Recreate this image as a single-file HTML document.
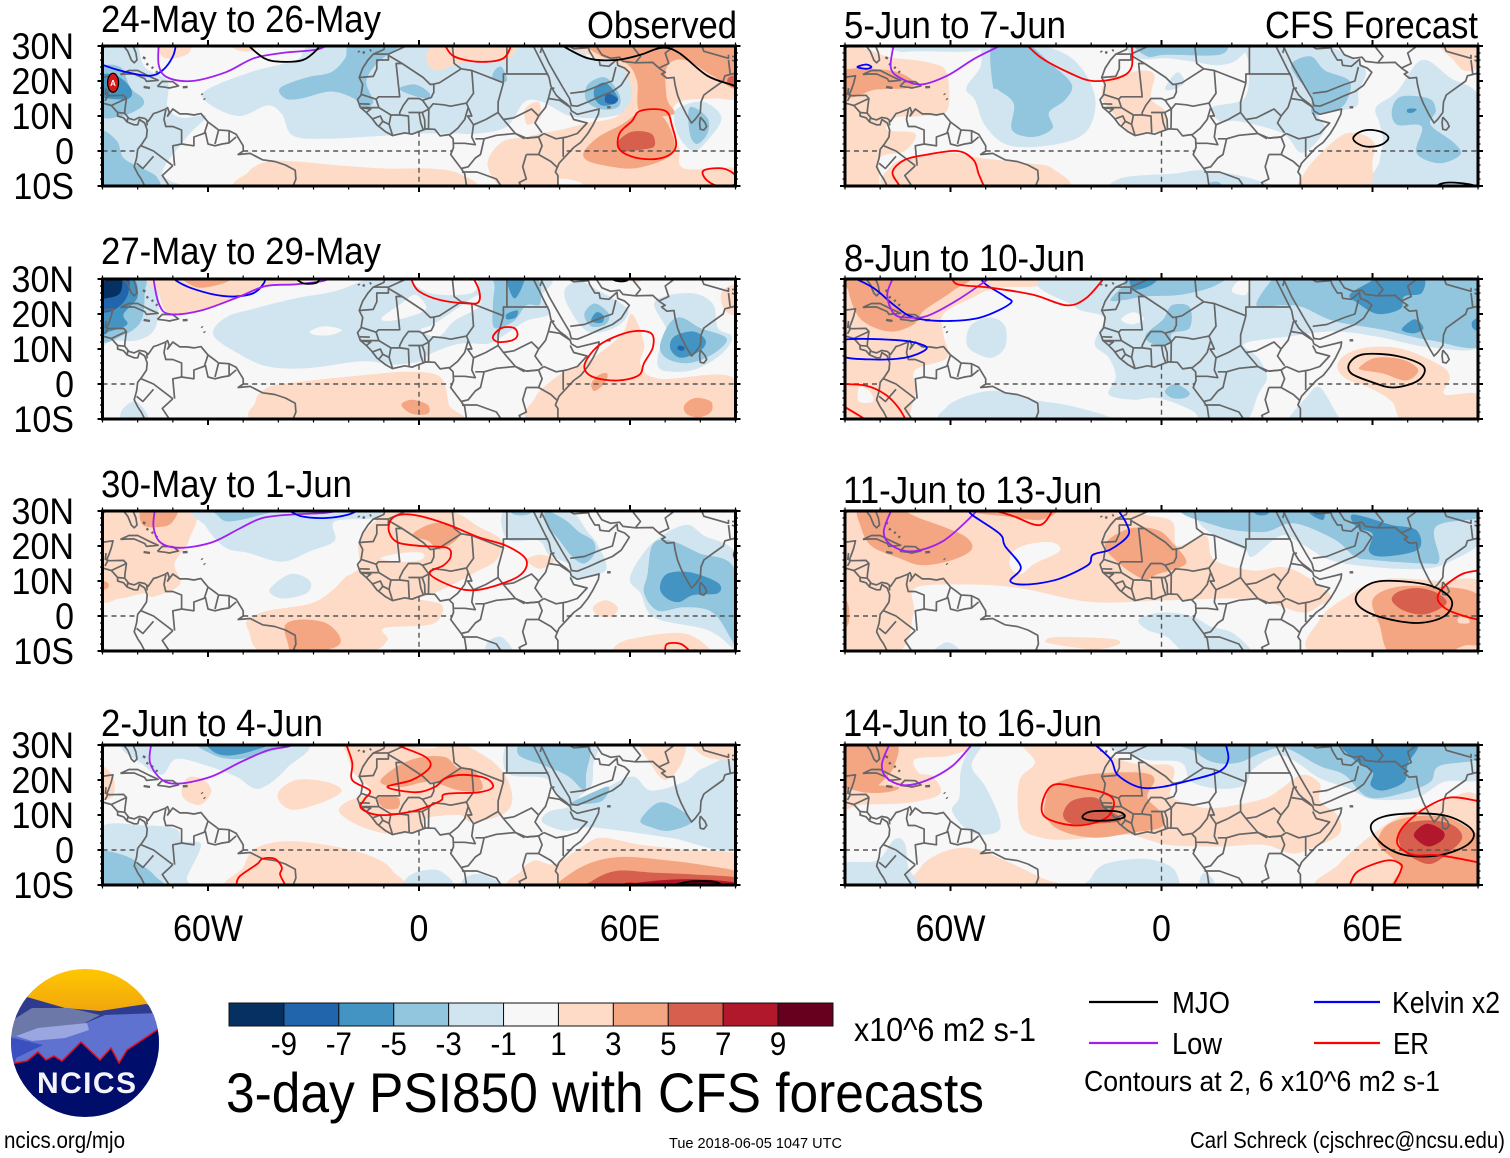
<!DOCTYPE html>
<html lang="en">
<head>
<meta charset="utf-8">
<title>3-day PSI850 with CFS forecasts</title>
<style>
html,body{margin:0;padding:0;background:#fff;}
svg{display:block;font-family:"Liberation Sans",sans-serif;}
text{fill:#000;}
</style>
</head>
<body>
<svg id="chart" width="1510" height="1158" viewBox="0 0 1510 1158" xmlns="http://www.w3.org/2000/svg">
  <rect width="1510" height="1158" fill="#fff"/>
  <g id="panels"></g>

  <g font-size="38">
    <text x="101" y="32" textLength="280" lengthAdjust="spacingAndGlyphs">24-May to 26-May</text>
    <text x="101" y="264" textLength="280" lengthAdjust="spacingAndGlyphs">27-May to 29-May</text>
    <text x="101" y="497" textLength="251" lengthAdjust="spacingAndGlyphs">30-May to 1-Jun</text>
    <text x="101" y="736" textLength="222" lengthAdjust="spacingAndGlyphs">2-Jun to 4-Jun</text>
    <text x="844" y="38" textLength="222" lengthAdjust="spacingAndGlyphs">5-Jun to 7-Jun</text>
    <text x="844" y="271" textLength="241" lengthAdjust="spacingAndGlyphs">8-Jun to 10-Jun</text>
    <text x="843" y="503" textLength="259" lengthAdjust="spacingAndGlyphs">11-Jun to 13-Jun</text>
    <text x="843" y="736" textLength="259" lengthAdjust="spacingAndGlyphs">14-Jun to 16-Jun</text>
    <text x="587" y="38" textLength="150" lengthAdjust="spacingAndGlyphs">Observed</text>
    <text x="1265" y="38" textLength="213" lengthAdjust="spacingAndGlyphs">CFS Forecast</text>
  </g>

  <g id="colorbar"></g>
  <text x="854" y="1041" font-size="33" textLength="182" lengthAdjust="spacingAndGlyphs">x10^6 m2 s-1</text>
  <text x="226" y="1112" font-size="56" textLength="758" lengthAdjust="spacingAndGlyphs">3-day PSI850 with CFS forecasts</text>

  <g font-size="31">
    <line x1="1089" y1="1002" x2="1158" y2="1002" stroke="#000" stroke-width="2.2"/>
    <text x="1172" y="1013" textLength="58" lengthAdjust="spacingAndGlyphs">MJO</text>
    <line x1="1314" y1="1002" x2="1380" y2="1002" stroke="#0000ff" stroke-width="2.2"/>
    <text x="1392" y="1013" textLength="108" lengthAdjust="spacingAndGlyphs">Kelvin x2</text>
    <line x1="1089" y1="1043" x2="1158" y2="1043" stroke="#a020f0" stroke-width="2.2"/>
    <text x="1172" y="1054" textLength="50" lengthAdjust="spacingAndGlyphs">Low</text>
    <line x1="1314" y1="1043" x2="1380" y2="1043" stroke="#ff0000" stroke-width="2.2"/>
    <text x="1393" y="1054" textLength="36" lengthAdjust="spacingAndGlyphs">ER</text>
    <text x="1084" y="1091" font-size="29" textLength="356" lengthAdjust="spacingAndGlyphs">Contours at 2, 6 x10^6 m2 s-1</text>
  </g>

  <g>
    <defs>
      <clipPath id="logoClip"><circle cx="85" cy="1043" r="74"/></clipPath>
      <linearGradient id="sky" x1="0" y1="0" x2="0" y2="1"><stop offset="0" stop-color="#ffc800"/><stop offset="1" stop-color="#efa010"/></linearGradient>
    </defs>
    <g clip-path="url(#logoClip)">
      <rect x="10" y="968" width="150" height="50" fill="url(#sky)"/>
      <path d="M5 990L27 997 65 1008 100 1011 146 1004 170 1012V1040H5Z" fill="#2e3b8e"/>
      <path d="M5 1020L16 1018 32 1008 70 1008 100 1015 81 1025 60 1040 5 1045Z" fill="#6b78a8"/>
      <path d="M5 1040L32 1030 81 1025 105 1015 157 1013 170 1012V1075H5Z" fill="#5f72d0"/>
      <path d="M16 1036L38 1028 87 1023 89 1030 65 1038 32 1041Z" fill="#9aa6e0"/>
      <path d="M5 1036L43 1045 16 1058 14 1068H5Z" fill="#3a4fc0"/>
      <path d="M5 1065L15 1063 27 1061 38 1052 46 1060 54 1056 62 1061 81 1042 100 1060 111 1048 119 1063 127 1050 157 1030 170 1022V1120H5Z" fill="#000d6b" stroke="#e01020" stroke-width="1.5"/>
    </g>
    <text x="37" y="1093" font-size="30" font-weight="bold" textLength="99" lengthAdjust="spacing" style="fill:#f4f4f8">NCICS</text>
  </g>

  <text x="4" y="1148" font-size="23" textLength="121" lengthAdjust="spacingAndGlyphs">ncics.org/mjo</text>
  <text x="669" y="1148" font-size="15" textLength="173" lengthAdjust="spacingAndGlyphs">Tue 2018-06-05 1047 UTC</text>
  <text x="1190" y="1148" font-size="23" textLength="315" lengthAdjust="spacingAndGlyphs">Carl Schreck (cjschrec@ncsu.edu)</text>
</svg>

<script>
/* ---------- axis values ---------- */
const xTicks = [-60, 0, 60];
const xTickLabels = ['60W', '0', '60E'];
const yTicks = [30, 20, 10, 0, -10];
const yTickLabels = ['30N', '20N', '10N', '0', '10S'];
const colorBounds = [-9, -7, -5, -3, -1, 1, 3, 5, 7, 9];
const colorBands = ['#053061', '#2166ac', '#4393c3', '#92c5de', '#d1e5f0', '#f7f7f7', '#fddbc7', '#f4a582', '#d6604d', '#b2182b', '#67001f'];
const contourColors = { mjo: '#000000', kelvin: '#0000ff', low: '#a020f0', er: '#ff0000' };

/* ---------- PSI850 shaded bands: [value, lon,lat, lon,lat, ...] ---------- */
const fills24May = [
  [-2,-91,31,-81,31,-78,24,-71.5,20,-71.5,12.5,-67.5,9.5,-60.5,10,-66,4,-73,-6.5,-66,-11,-91,-11],
  [-2,-24,31,43,31,48,27,59,24,61,17,59,11.5,52,9.5,43,10,35,14,30,14,25,7,17,5,10,5,0.5,5,-7.5,4.5,-27,3.5,-36,4.5,-39,10.5,-43,13,-51,10,-59,13,-61,17,-48,22.5,-35,26],
  [-4,-39.5,18,-32,21,-25,22.5,-21,26.5,-19,31,-5,31,-11.5,25.5,-15,20,-13,14,-16,12.5,-18.5,15,-25,17,-33.5,15,-38,15],
  [-4,-5.5,18,-1,19,3,16.5,2,15,-3.5,16.5],
  [-4,23.5,24,25,20,21,20.5,21.5,23],
  [-4,-91,23,-85,24,-82,18,-78.5,15,-79,12.5,-84.5,10,-91,10.5],
  [-4,-91,5,-86,3,-84,-2,-78.5,-5,-74.5,-7.5,-75,-11,-91,-11],
  [-6,-91,21.5,-86,21.5,-82,18,-82.5,15,-88.5,15,-91,16],
  [-4,53,21,57,16,56.5,12.5,51.5,12,47.5,14.5,48,19],
  [-6,53,19.5,56.5,15.5,55.5,13.5,52,13,50,15,50,18],
  [-8,53.5,16.5,56.5,15,55.5,13.5,53,14],
  [2,44,31,91,31,91,16,83.5,15,74,14,71.5,8.5,74,1,75.5,-5,91,-5,91,-11,40,-11,25,-11,19.5,-4,23.5,2.5,30.5,4,34.5,5,40,6,48,8,56.5,10,60.5,16,57.5,24,49.5,27],
  [0,40,-8,46,-9,46,-11,40,-11],
  [2,-48.5,-6,-43,-3,-35,-3,-24,-4,-10,-5,3,-5,11.5,-6.5,12,-11,-48,-11],
  [2,-74,31,-65.5,31,-65.5,28,-69.5,26.5,-73,27],
  [2,-54,31,-46,31,-48,28.5,-52,29],
  [2,6.5,31,26.5,31,25,26,18,25.5,11.5,25,5.5,23,2.5,25,2.5,28.5],
  [2,30.5,12.5,34,14,34.5,9.5,31,7.5,30,10],
  [4,51,31,91,31,91,18,83.5,21.5,75.5,26,70.5,24,70.5,15,72.5,10.5,63,11,62,20,59,25,52,27],
  [4,47,0,51,4,57.5,7.5,63,11,68.5,10.5,72,5,72.5,0,68.5,-3,60.5,-5,52,-4,47.5,-2.5],
  [6,56.5,2.5,60.5,5.5,66,5,67,1.5,64,0.5,57.5,0],
  [6,88,21,91,21.5,91,18,88,19],
  [-2,74,12.5,81,14,86,9.5,82,3,78,0,74,4,72.5,9.5],
  [-4,77,12.5,82,9.5,82,5,79,2,77,5]
];
const contours24May = [
  ['kelvin',0,-91,25,-85,23,-77,21.5,-73,23,-70,27,-69,31],
  ['low',0,-74,31,-74,24.5,-71.5,21,-64.5,20,-55,22.5,-47,26.5,-39,28,-29,29,-25,31],
  ['mjo',0,-49.5,31,-44,26.5,-39,25.5,-33,26,-29,29,-28,31],
  ['er',0,7.5,30,10,27,17,25.5,24,26.5,26.5,31],
  ['mjo',0,40,30.5,48,26.5,56,26,63,27.5,69,29.5,74,28,82,21.5,90,18.5,92,17],
  ['er',1,63,11.5,70,11.5,72,7,73,1,69,-2,62,-2,57,0.5,57,5,60.5,8.5],
  ['er',1,81,-5.5,86.5,-5,90,-7,90,-9.5,85,-10,81.5,-8]
];

const fills27May = [
  [-2,-58.5,14,-55,19,-47,21.5,-35,24.5,-24,26.5,-16,29.5,-12,31,34.5,31,35,25,37,20,30.5,18,23.5,13.5,19.5,11.5,11.5,11.5,3,8.5,0.5,6.5,-7.5,5.5,-16,6.5,-32,4.5,-43,5,-51,8.5],
  [0,-31,15,-27,16.5,-22,15.5,-25,14,-29.5,14],
  [0,-10.5,19,-5,23,-1,25.5,2,21.5,-3.5,19,-9,18],
  [0,4,17,11.5,22,17,25.5,17,22,10,18,5.5,13.5,0.5,15.5],
  [0,-2,31,15,31,15,26,3,26],
  [-4,21,22,21.5,27.5,22,31,33,31,34.5,23,30.5,22.5,27,18,21.5,16],
  [-6,25,31,30.5,31,30,29.5,28.5,26,27,24.5,25.5,27.5],
  [-6,25,20,28,21,27.5,19,25,18.5],
  [-2,41.5,27,45.5,29.5,49.5,27.5,57.5,23,59.5,20,55.5,16,48,15,42.5,22],
  [-4,50,23,54,20,53,17,49,16.5,47,20],
  [-6,50.5,20.5,52.5,19.5,52,17.5,49,18],
  [-2,67,23.5,77,26,83.5,23,85,16,89,13.5,86,8.5,78,4,69,4,68,8.5,70.5,15],
  [-4,71,17,74.5,19,80,16,87.5,13,83.5,8.5,77,6,71,7,68.5,10.5],
  [-6,72.5,13.5,78,15,81.5,12.5,80,9.5,74.5,7.5,71.5,10],
  [-8,74,11,75.5,10.5,75,9.5,73.5,10],
  [-2,-91,31,-75.5,31,-74,25,-75,16,-80,12.5,-87,12.5,-91,12],
  [-4,-91,31,-78.5,31,-78,26,-79,18,-84,14,-91,13],
  [-6,-91,31,-82,31,-80,25,-84,20,-83,17,-88,15,-91,15],
  [-8,-91,31,-83,31,-83,25,-87,21,-91,21.5],
  [-10,-91,31,-85,31,-85,26,-89,24.5,-91,25],
  [2,-74,31,-27,31,-35,29,-44.5,28,-54,23.5,-65,20.5,-71.5,20.5,-74,26],
  [4,-67,31,-54,31,-55,29,-62,27.5,-66,29],
  [2,-46.5,-5,-43,-1,-35,0.5,-16,2.5,-3.5,3.5,6,2,8.5,-6,9.5,-11,-43.5,-11],
  [2,33,-4,40.5,3,48,6.5,57.5,14,60.5,20,64,11.5,63,5.5,68.5,1.5,89,2,90,-11,35,-11],
  [4,-5,-6,-2,-4.5,2.5,-6,2.5,-8.5,-2,-8.5],
  [4,49,0,51,2.5,53.5,3,53,0.5,50,-2],
  [4,75.5,-6,78.5,-4,83,-5,83,-8,79.5,-9.5,76,-8.5],
  [2,87,21,86,26,90,28,91,20],
  [2,58,31,64,31,62,29],
  [-2,-84.5,-7.5,-80.5,-5,-77,-10,-84,-10.5]
];
const contours27May = [
  ['kelvin',0,-70,31,-69,29.5,-65,27.5,-58,25.5,-52.5,25,-47,26,-44,29,-44,31],
  ['low',0,-75.5,31,-75.5,30,-74,23,-71,20,-62,21,-51,25,-43.5,28,-35,28.5,-27,29.5,-25,31],
  ['mjo',0,-36,31,-33,28.8,-29,29,-28,31],
  ['mjo',0,53.5,31,56,29.5,59,29.5,60.5,31],
  ['er',0,-2,31,-2,29.5,0,26.5,6,24,14,23,17,23.5,17,27,15,31],
  ['er',1,21,13.5,23.5,16,27,16,28,14,26.5,12.5,22.5,12],
  ['er',1,60.5,15,66,14.5,66.5,10.5,64,6,62.5,2.5,56.5,1,49.5,2,47,5,49.5,9.5,53.5,12.5]
];

const fills30May = [
  [2,-91,31,-65,31,-65.5,21.5,-69.5,15,-68,9,-75.5,5.5,-78,6.5,-85,5,-91,6],
  [4,-78.5,31,-69,31,-70,27,-73,25.5,-78.5,26],
  [4,-91,10,-88.5,9.5,-88.5,8,-91,7.5],
  [-2,-61,31,-10,31,-13,28,-24,27,-24,21.5,-31,18.5,-39,15.5,-48.5,18,-55,19.5,-60.5,25.5],
  [-4,-58.5,31,-39,31,-44.5,29,-54,27,-57.5,29],
  [-2,-42.5,7.5,-36.5,12,-31,10,-32,6.5,-39,5],
  [2,-48.5,-1,-43,1.5,-31,3.5,-25,7,-21,11,-17,14,-17,21.5,-11.5,28,-7.5,30,8.5,30,17,25.5,23.5,21.5,22,16,17,13,11.5,10,3,6,-1,5,6,3.5,6.5,0.5,3,-2.5,-10,-3.5,-9,-7,-16,-10.5,-43,-11,-48.5,-4],
  [0,-11,16.5,-5,18,1,18,0.5,16,-6,15.5],
  [2,30.5,16,34.5,17.5,38.5,16,34.5,13.5],
  [4,-2,23,2.5,26,7.5,26.5,11.5,23,6,19,2.5,21.5],
  [4,-38,-2.5,-33.5,-1,-26.5,-2,-22.5,-6,-24,-9,-35,-11,-37.5,-7],
  [2,49.5,2.5,53,4.5,56.5,2.5,55,0,51,0],
  [2,55.5,-9,60.5,-6.5,75.5,-5,83.5,-10.5,80,-12,56,-12],
  [4,76,-10,79,-9.5,81,-11,74,-11],
  [-2,60,11,66,20.5,75.5,26,81,23,91,16,91,-11,89,-9,82,-4,67,-0.5,63,6.5],
  [-4,65,12,66.5,20.5,71.5,21.5,79.5,18,90,13,91,-11,89,-7,83.5,1,75.5,2.5,68,1.5,64,6.5],
  [-6,68.5,8,70.5,12,77,12.5,85,9.5,85,6.5,78,6,74,4,70.5,5],
  [-2,-91,-9,-87,-10,-87,-11,-91,-11],
  [-2,19.5,-7.5,23.5,-6,26.5,-10.5,19.5,-11],
  [-2,25,31,41.5,31,48,24,51,20,53,13,43.5,10.5,43,14.5,37,17.5,34,21.5,25,22],
  [-4,36,30,41.5,27.5,45.5,24,49.5,21.5,50,18,47,15,43.5,17,40,21.5,36.5,26],
  [-4,26,31,33,31,31,29,27,29]
];
const contours30May = [
  ['low',0,-75,31,-75.5,25.5,-73.5,21,-68,19.5,-59,21,-51,25,-44.5,28,-36,29,-26.5,29.5,-21,30.5],
  ['kelvin',0,-37.5,30.5,-33.5,28.5,-26.5,28,-20,29,-17,30.5],
  ['er',1,-8,27.5,-5,29,0.5,28.5,8.5,26,17,22.5,25,20,30.5,16,28.5,11.5,19.5,8,13,7.5,6,10,3,12.5,7,14.5,9,17,8,19.5,0.5,20,-6,21,-8.5,24],
  ['er',0,70,-10.5,70.5,-8,74.5,-8,77.5,-10.5],
  ['er',0,90,19,89.5,17.5,90,16]
];

const fills2Jun = [
  [-2,-82,31,-34,31,-37.5,23.5,-45.5,17.5,-52,21,-60,24,-69,26,-73,21.5,-78,24],
  [-4,-62,31,-35,31,-43,28,-51,26,-58,27],
  [-6,-59,31,-41.5,31,-48.5,28,-55,27,-59,28.5],
  [2,-91,24,-87,21,-87,15.5,-91,15],
  [2,-67.5,16.5,-66,20.5,-62,20.5,-59,17,-62,13,-66,14],
  [2,-40,16.5,-35,20,-26.5,19.5,-22,17,-26.5,14,-35,11.5,-39,13],
  [2,-21,31,-10,31,3,29,10,31,20,26,25,20.5,26.5,14,23.5,10,15,8,11.5,10,2,9,0.5,5.5,-7.5,4.5,-16,6.5,-22.5,10.5,-21,13.5,-14,17,-18.5,22,-20.5,27.5],
  [4,-11,19.5,-6,24,0.5,26.5,7.5,26.5,11,23.5,15.5,23,18,17.5,11.5,17,3,19.5,-5,18],
  [4,-11.5,15,-6,15,-6,12,-10,12],
  [2,-46.5,0.5,-37,2.5,-24,1,-13,-2,-7.5,-6,-7.5,-11,-52.5,-11,-50,-5],
  [-2,-3.5,-8,0.5,-6,6,-6,9.5,-10.5,-3.5,-11],
  [-2,13,-8,18,-7,25,-11,13,-11],
  [-2,-91,6,-78,7,-69,6,-67.5,2.5,-62,1.5,-66,-8,-65,-11,-91,-11],
  [-4,-91,-1,-84,-1.5,-78.5,-4.5,-75,-7.5,-73,-11,-91,-11],
  [-2,30.5,31,49.5,31,49.5,24,49,18.5,45.5,15,51,16.5,60.5,21,66,17,75.5,19.5,81,23.5,91,25,91,1,71.5,3.5,57.5,5.5,48,6.5,41.5,5.5,35,8,37,11,42.5,12.5,38.5,16.5,36,20.5,25,22,25,31],
  [-4,34.5,31,48,31,47.5,21.5,47,17,42.5,21,36,24,28.5,27,29,31],
  [-4,42.5,13,49.5,16.5,54,18,52,14,45.5,13],
  [-4,63,8.5,68,13.5,73.5,12,77.5,8,71,5.5,66,6.5],
  [2,29,-6,33,-3,38.5,-4,46.5,1,52,3.5,63,1.5,76.5,0,91,-1.5,91,-11,30,-11],
  [4,40,-9,48,-4,57.5,-2,71,-3,82,-4.5,91,-6.5,91,-11,40,-11],
  [6,49,-9,56,-6,67,-6.5,78,-7,91,-8,91,-11,49,-11],
  [8,57.5,-10,71,-8.5,82,-8.5,91,-9.5,91,-11,57.5,-11],
  [10,72.5,-9.8,79.5,-9,86,-9.5,86,-11,72.5,-11],
  [2,63,31,75,31,74.5,24.5,70,20,66,24.5],
  [2,78,31,91,31,91,26,84,26,80,27.5]
];
const contours2Jun = [
  ['low',0,-76,31,-76.5,25,-73,20,-68,19,-59,21,-51,25,-43,28.5,-37.5,29.5,-33.5,31],
  ['er',0,-21,31,-19,25,-19,20,-14,17,-15.5,14.5,-16.5,12,-11.5,10,-2,11,6,14,7.5,16,17,16.5,21,18,19,20.5,12.5,21.5,7.5,20.5,4.5,18,-1,16.5,-9,18,-2,20,3,23.5,2,26.5,-5,29.5,-8,31],
  ['er',0,-53,-11,-52,-10,-51,-7.5,-46,-4,-44.5,-2.5,-41,-2.5,-39,-5,-39.5,-7,-38,-10,-37.5,-11],
  ['er',0,57.5,-10,60,-9.5,63,-10],
  ['kelvin',0,83,-10,86,-9.9,90,-10],
  ['mjo',0,72.5,-10,77,-9,83.5,-9,86.5,-10]
];

const fills5Jun = [
  [2,-91,27,-76,26.5,-65,25,-61,22,-61,11.5,-68,10,-76,9.5,-78,6,-70,5,-73,0,-80,-2,-81,-11,-91,-11],
  [2,-76.5,-4,-69,-1.5,-59.5,-0.5,-51.5,-2,-38,-3.5,-31,-5,-29,-11,-76,-11],
  [4,-90.5,23,-77,23,-70.5,20,-72,18,-81.5,17.5,-87,15.5,-90.5,16],
  [-2,-55.5,18,-51.5,24,-50,31,-38,31,-25.5,26.5,-19,16,-21,6,-29.5,2,-43,1.5,-50,7,-53,14.5],
  [-2,-76,31,-49,31,-54,28.5,-68,28.5,-75,28.5],
  [-4,-48,19,-48,31,-39,31,-31,24.5,-25.5,19,-27.5,14.5,-32,11,-31,6.5,-36.5,4,-42.5,6,-42,13.5,-46.5,17.5],
  [-2,-8,31,22,31,22,26.5,16.5,24.5,9,25.5,1.5,26.5,-6.5,26.5],
  [-4,-6.5,31,16.5,31,16.5,27.5,1.5,27.5,-4,27],
  [-2,1,18,4.5,22.5,6.5,19.5,3,17.5],
  [2,-17,16,-16,20,-10.5,22,-5,23,-2,21.5,-3,15,1,11.5,1,6.5,-5,5,-9,5.5,-16,13.5],
  [-2,25,31,44,31,57.5,24,56,17,55,12.5,45,10.5,46.5,6,40,-0.5,34.5,5,22,8.5,16.5,8.5,14.5,12.5,23.5,15,25,24],
  [-4,37,25,42.5,27,46.5,23,53.5,20,52.5,14,49,11.5,43,10.5,42.5,16,38.5,21],
  [-2,61,12.5,67,17,74,26,82,21,91,14,91,-11,61,-11,62,-3,63,3,62,8],
  [2,40,-7.5,44,-2,52.5,5,60,3,60,-3,58,-11,40,-11],
  [-4,65.5,11.5,68,15.5,76,15,78,11.5,76.5,7.5,83,2.5,85,-1,79,-3.5,72.5,-0.5,74,7,67,7.5],
  [-6,70,12,72.5,12,71.5,11,70,11],
  [-2,-16,-10.5,-10.5,-7.5,3,-6.5,12.5,-5.5,26,-8,29,-11,-16,-11],
  [2,79,31,91,31,90,24,86,23,83,26],
  [-4,14,-9,16.5,-9,17,-11,13,-11]
];
const contours5Jun = [
  ['low',0,-76,31,-77,24,-74.5,21,-68.5,19,-61,21.5,-53,26.5,-45,30.5],
  ['er',0,-39,31,-34,26.5,-25.5,22,-19.5,20,-12,21,-8.5,24,-8.5,31],
  ['kelvin',1,-86.5,24,-84,24.7,-82.5,24,-84,23.5],
  ['er',0,-75,-11,-74.5,-10,-76.5,-6,-73,-2.5,-66.5,-1,-58,0,-53.5,-2.5,-52,-6.5,-50.5,-10,-50,-11],
  ['mjo',1,54.5,3.7,56.5,5.5,60,6,63.5,5,64.5,3.5,62.5,1.8,59,1.2,56,2],
  ['mjo',0,78,-10.5,79,-9.5,82,-9,87.5,-9.5,90.5,-10.5]
];

const fills8Jun = [
  [2,-91,31,-34,31,-35,28,-47,27.5,-54,24.5,-62,20,-62,14,-61,7.5,-70,4,-70,-2,-72,-10.5,-72,-11,-91,-11],
  [0,-86,-1,-83,-2,-82,-5,-86,-5],
  [4,-88,31,-55.5,31,-59.5,26.5,-67.5,21,-70.5,17,-77.5,15,-85.5,18.5,-89,26.5],
  [-2,-27,31,-24.5,22,-16.5,19,-19,11.5,-15,7.5,-13,2,-15,-3,-8,-4.5,-1,-4,8.5,-7.5,12.5,-11,23.5,-11,27.5,-3,30,2,27.5,7.5,23.5,11.5,35.5,13.5,49,15,61.5,13.5,76.5,10.5,91.5,11.5,91.5,31],
  [0,20,26.5,22,29.5,25,29.5,24,25.5],
  [0,-11.5,18.5,-8,20.5,-5,18.5,-8.5,17],
  [-4,27,22.5,31.5,30,33,31,91.5,31,91.5,11.5,76.5,12.5,63,15.5,49,18,40,22,34.5,22.5],
  [-4,-14.5,24,-10.5,28.5,-9,31,16.5,31,15,28,5.5,25.5,-5,25,-10.5,24],
  [-6,-8.5,31,-1,31,-2.5,28.5,-6.5,27,-8.5,27.5],
  [-4,-4.5,14,0.5,18.5,3,22.5,8,22,8,16,3,14.5,2.5,11.5,-2.5,11.5],
  [-4,1,-2,4,0,8,-2.5,6.5,-4,3,-4],
  [-6,53.5,25.5,59,29,63,31,74,31,74,26,69,25,68,21.5,61.5,20,56,23],
  [-6,68.5,16,72,18.5,74.5,16,72,14.5,69,15],
  [-6,88.5,18,91,19,91,15,88.5,16],
  [-2,-55.5,12.5,-54,17,-48.5,19,-44.5,16.5,-44.5,10.5,-48.5,7.5,-54,9.5],
  [-2,-61,-6.5,-54,-3,-46,-2,-36.5,-4.5,-27,-6,-16,-9,-15.5,-11,-59.5,-11],
  [-2,35.5,-10.5,41,-4,45,-1,50.5,-9.5,53,-11,35.5,-11],
  [2,50,5,52.5,8.5,59,10.5,68.5,10,79,5.5,82,2,80.5,-3,90,-3,91,-11,70,-11,65.5,-5,59,-1,52.5,1.5],
  [4,56.5,5,61,7.5,68.5,7,73,4,69.5,1,63,3,57,4]
];
const contours8Jun = [
  ['kelvin',0,-89,31,-82,27.5,-76,22.5,-70.5,19,-61.5,18,-51.5,19,-43,23,-44.5,25,-50,28.5,-52,31],
  ['low',0,-76,31,-78,25.5,-76,20,-72,19,-66.5,19.5,-58,24,-48.5,30.5],
  ['er',0,-59.5,31,-58,28.5,-48.5,27.5,-36.5,25.5,-27,22.5,-21.5,24.5,-16.5,30],
  ['kelvin',1,-91,12.5,-74.5,12.5,-67.5,11,-67.5,9.5,-73,7.5,-81.5,7,-91,8],
  ['er',0,-91,0,-84,-0.5,-78.5,-3,-75,-6.5,-72.5,-10.5],
  ['er',0,-91,-6,-86,-9,-83,-11],
  ['mjo',1,53.5,6,57.5,8.5,67,8,74.5,5,73,1,66,-1,60,0.5,54,3]
];

const fills11Jun = [
  [2,-91,31,-8,31,-5,29,3,27,4.5,20,12.5,23,15,16,26,13,34,14,40,12,48,6,45,3,40,1,30,4,20.5,5,1.5,4.5,-20,4,-40.5,8,-55.5,9,-70,8,-70.5,1,-74.5,-10,-91,-11],
  [0,-42.5,18,-38,20.5,-31,21,-29,18.5,-36,15,-40,12,-43,14],
  [4,-86,31,-76,31,-69,28,-62,25.5,-55.5,22.5,-54,19,-59.5,16,-68,14.5,-74.5,16.5,-82.5,20,-85.5,25.5],
  [4,-55.5,31,-31,31,-34,27.5,-44.5,28.5,-53,29.5],
  [4,-16,20.5,-9,25,-1,24.5,3.5,20.5,7,16,5.5,14,-1,12,-5,10.5,-12,15],
  [4,-91,6,-89,3,-89,-2,-91,-4],
  [2,44.5,-11,45,-1,53.5,6,63,10.5,79,10,91,9,91,-11],
  [2,-33,-7,-29.5,-6,-14.5,-6.5,-12,-8,-19,-9.5,-31,-8],
  [4,60,4.5,65.5,8,75,8.5,90,6,91,-7,86,-8.5,79,-11,65.5,-11,62,-2.5],
  [6,65.5,4.5,67.5,7,73,8,78.5,6.5,81,3.5,75,0.5,69,1.5],
  [2,84.5,-0.5,87,-0.5,87.5,-2,84.5,-2],
  [-2,11,31,91,31,91,21.5,83,16,75,13.5,60,14,48,16,40,20.5,34,23,26,17,23.5,19,15,23,10,27.5],
  [-4,10.5,31,91,31,90,28,78,25.5,79,16,75,15,60,16,55,17,49,22,37.5,26.5,29,24,16.5,25.5],
  [-6,54,27.5,54.5,29,59,28,65.5,26,72.5,24.5,73,19,63,17,59,18.5,60,23.5,56,25],
  [-6,26,31,31,31,30,29,27,29],
  [-6,42,31,46,31,46,27.5,42.5,29],
  [-2,-6.5,-1,0,1,8.5,0,14,-3,20.5,-5,25,-11,8.5,-11,1.5,-6,-4,-4],
  [-2,-65,-10,-61,-7.5,-57.5,-9.5,-57.5,-11,-65,-11]
];
const contours11Jun = [
  ['low',0,-76.5,31,-79,24,-76.5,20,-70.5,18.5,-62,21.5,-54,28.5,-52,31],
  ['kelvin',0,-55,31,-54,29,-46,23.5,-44.5,20,-40,14,-43,10,-38.5,9,-29.5,10.5,-21,14.5,-19.5,17.5,-14.5,19,-9.5,23,-10,26.5,-12.5,30.5],
  ['er',0,-47,30,-42,28.5,-34.5,26,-30.5,31],
  ['er',0,90,13,85.5,12,80.5,8.5,78.5,5,81,2,86,0,90,-1],
  ['mjo',1,55.5,6,60,9.5,67,10,77,8.5,82.5,4.5,80.5,0,73,-2,63,-0.5,56.5,2.5]
];

const fills14Jun = [
  [2,-91,31,-54,31,-60,27,-70,26,-69,22,-65,21,-63,16,-72,13.5,-85,13,-91,13],
  [4,-91,31,-76,31,-76,24,-80,19,-83,17,-87,17,-91,19.5],
  [4,-87,18.5,-75,18,-78,16.5,-85,16.5],
  [2,-39,31,-36,25,-40.5,19.5,-40,7,-34,3.5,-25.5,3,-10.5,4.5,1.5,1.5,16.5,1,29,1.5,37,-1,42.5,0.5,50.5,4.5,50,10,45,14,45,19,40,21.5,34,17.5,30,15,22,13,12.5,12,3,15,3,18.5,3,24,-6.5,24.5,-15,27,-20,31],
  [2,-68.5,-5,-62,-0.5,-54,0.5,-44.5,-3,-34,-8,-28,-11,-68,-11],
  [2,46,-11,50.5,-4,60,4.5,68.5,10,78,13,90,15,91,-11],
  [4,-33,14,-31,18.5,-24,21,-16,22,-5,22,-2,20,-4,15,0.5,10,0,6.5,-8,5,-19,3.5,-28.5,5.5,-33,9.5],
  [6,-28,10,-25.5,14,-19,15,-15.5,12,-11.5,8.5,-19,7.5,-25.5,7.5],
  [4,61.5,2.5,64,7,71,9.5,80.5,9.5,87.5,6,91,2,91,-11,67,-11,68,-5,63,0],
  [6,67.5,4.5,69.5,7.5,76.5,8.5,83,7,85.5,3.5,82,-0.5,76.5,-4,71,-2,68,1],
  [8,72,5,75.5,7.5,80,5.5,80,3,76,1,72.5,3],
  [-2,-8,31,91,31,91,20.5,80.5,19.5,72.5,15,60,14.5,53.5,17.5,45,20.5,38.5,25,33,27,26,23,23.5,18.5,16.5,17.5,8.5,19.5,5.5,25,-5,26],
  [-4,10,28,11,31,91,31,90.5,26,79,24,76.5,19.5,69.5,16.5,59,15,52,21.5,45,24,35.5,29,29,28,22,25,15,25],
  [-6,52,31,72,31,70,24.5,69,19.5,63,17,59.5,18.5,60,22.5,54.5,26],
  [-2,-57,23,-54,30,-51,30,-54,24,-50,18,-46,9,-47,5,-54,5,-59.5,11,-57.5,15],
  [-2,-91,-4,-81,-3,-76,3,-73,2,-72,-5,-70,-11,-91,-11],
  [-2,-20,-8,-16,-4,-5,-2.5,3,-5,5.5,-10,7,-11,-20,-11],
  [-2,11,-8,12.5,-6.5,15,-9,14,-11,11,-11]
];
const contours14Jun = [
  ['low',0,-77,31,-79.5,24.5,-78,20.5,-73,18.5,-66.5,20,-59.5,24,-54,30],
  ['kelvin',0,-20,31,-14.5,26,-12.5,21.5,-6.5,18,0,18,8.5,20,16.5,22.5,19,26,18,31],
  ['er',1,-31,18.5,-24,18,-15.5,16,-13.5,13,-16,9,-24,7,-32.5,9,-34,13],
  ['mjo',1,-22.5,9.5,-20,11,-12.5,11,-10.5,9.5,-14.5,8.5,-20.5,8.5],
  ['mjo',1,59.5,6.5,63,9.5,72.5,10.5,82,9.5,88.5,5.5,87,1.5,79,-1.5,69.5,-1.5,63,1.5],
  ['er',0,90,14,82,15,75,12,69,7,67,3,68,0.5,72,-1.5,79,-1.5,90,-3.5],
  ['er',0,53,-11,53.5,-10,56,-6,64,-3,68,-4,68,-6,66,-10,65.5,-11]
];

/* ---------- map outlines in lon,lat ---------- */
const coastlines = [
  [-90,29.2,-89,30.2,-85.5,29.8,-84,30,-82.8,28.5,-81.8,26,-81,25.2,-80.2,26,-80.5,28,-81.3,30,-81,31],
  [-90.5,21,-87,21.5,-87.5,19.5,-88,18,-88.8,16,-88,15.8,-84,15.9,-83.2,15,-83.6,12,-83.7,10.8,-82.5,9.3,-81,8.9,-79.5,9.6,-78,9.3,-77,8.5,-75.5,10.7,-74.5,11,-72,12,-71.5,12.4,-71,11,-71.5,10,-70,12,-68,10.6,-66,10.6,-64,10.3,-62,10.7,-61,9.5,-60,8.3,-58,6.8,-57,6,-54,5.8,-52,4.8,-50,1.5,-50,0,-51.4,-1,-48,-0.7,-44.5,-2.5,-41,-3,-38,-4,-35.2,-5.5,-35,-8,-36,-10.5,-37,-12],
  [-91,14,-87.5,13,-87,12.5,-85.7,11,-85.7,10,-84,9.5,-83,8.3,-81,7.5,-80,7.5,-79.5,9,-78,8,-77.3,6,-77.5,4,-78.8,2,-80,0.5,-80.3,-2,-81,-4.5,-80,-6.5,-79,-8,-77.5,-11],
  [-84.9,21.9,-82.5,23,-80,23,-77,21.5,-74.2,20.2,-77.5,19.9,-78,20.7,-81,22,-83,22,-84.9,21.9],
  [-74.4,18.5,-73,19.9,-70,19.8,-68.4,18.6,-71,18,-72,18.2,-74.4,18.5],
  [-9.7,31,-9.7,30,-10,29,-13,27.7,-14.5,26,-16,23.7,-17,21,-16,19,-16.5,16,-17.5,14.7,-16.7,12.5,-15,11,-13.5,9.5,-12,7.5,-9.5,5.5,-7.5,4.4,-4,5.2,-2,4.8,0,5.6,2,6.3,4.5,6.2,6,4.3,8.5,4.7,9.7,3.5,9.8,1,9,-1,10.5,-3,12,-5,13,-6.5,13.5,-10,13.8,-12],
  [40,-12,39.5,-10,39.5,-7,38.8,-6,39.8,-3.5,41.5,-1.7,44,1,46,2.5,48,5,49.5,7.5,51,10.5,51.2,12,48,11.2,45,10.5,43.3,11.5,43,12.5,42,13.5,40,15,39,16,37.5,18.5,37,21,35.5,24,34,27,33.5,28,32.5,30,32.5,31],
  [34.5,28,34.9,29.5,37,25,39,21.5,41,18,42.8,15,43.3,13,45,12.8,48,14,52,15.8,55,17,57.5,18.8,59.8,22.5,58.5,23.7,56.5,24.5,56.3,26.2,54,24.2,51.5,24.5,51.2,26,50,26,48.5,28.5,48,30,48.3,31],
  [48.5,30,50.5,29.8,52,27.5,54.5,26.5,57,26.8,58,25.6,61.5,25.2,66.5,25.3,67,24.8,68.5,23.5,70,22.5,69,22,70.5,20.8,72.5,21,72.8,19,73.5,16,74.5,13.5,76,10.5,77.5,8,78.5,9,80,11,80.2,14,81,16,83,17.5,86.5,20,87,21.5,89,22,91,22.5],
  [80,9.7,81.3,8.2,81.8,7,81,6,80,6.2,79.8,8,80,9.7]
];
const borders = [
  [-72,11.8,-72.5,9,-72,7,-70,7,-67.5,6,-67.5,2,-70,1.5,-69.5,-4.2],
  [-67.5,2,-64,1.5,-64,4,-60.7,5.2,-60,2,-58,1.5,-56,2,-54,2.3,-52,4],
  [-60,8.3,-61,5.2],[-57,6,-58,2],[-54,5.8,-54,2.3],
  [-79,1.5,-75.5,0,-70,-4.2],[-80.3,-3.5,-78.5,-5,-75.5,-1.5],[-70,-4.2,-73,-7,-71,-10,-70,-11],
  [-89,18,-89.2,16],[-88.5,15.8,-89.3,14.3],[-83.2,15,-87.5,13],[-85.7,11,-83.7,10.8],[-82.8,9.5,-83,8.3],[-77.4,8.6,-77.3,7.3],
  [-8.7,27.7,-13,27.7],[-8.7,27.7,-8.7,26,-12,26,-12,23.5,-13,21.3,-17,21],
  [-1.5,31,-1.5,30,-3.6,30,-8.7,27.7],
  [-8.7,27.3,-4.8,25,1.2,21,3.2,19,4.2,19.1,5.8,19.5,12,23.5],
  [9.5,31,9.5,30,10,25,12,23.5],
  [-4.8,25,-6.5,25,-5.5,15.5,-9.3,15.5,-11.5,15.5,-12.2,14.8,-16.5,16.2],
  [-12.2,14.8,-11.4,12.4],[-16.7,12.4,-11.4,12.4],[-16.8,13.5,-14,13.4],[-16.7,12.4,-13.7,12,-15,11],
  [-13.3,9.1,-11,10,-10.3,8.5],[-11.5,7,-10.3,8.5,-8.5,7.6,-7.5,4.4],[-11.4,12.4,-8,10.3],[-8,10.3,-8.5,7.6],
  [-8,10.3,-5.5,10.3,-3,10,-2.8,5],[0,11,0.5,8,1.2,6.1],[0.9,11,1.6,9,1.7,6.2],[2.8,12,2.7,6.3],
  [-5.5,10.3,-5.5,11,-4.5,13,-3,15,0,15,1,14.5,2.8,12,0.9,11,0,11,-3,11],
  [1,14.5,3.5,15.3,4.2,16.8,4.2,19.1],
  [2.8,12,4,13.5,7,13.2,9,12.8,13.5,13.7,14,12.5],
  [13.5,13.7,15.5,16.5,15,23],[12,23.5,15,23,24,19.5],
  [25,31,25,22,24,22,24,19.5],[25,22,36.8,22],
  [24,19.5,22.5,14,22.5,11],[22.5,11,19,9,15.5,7.5],[14,12.5,15,10,13.8,10,15.5,7.5],
  [14,12.5,13,9,11,6.5,8.8,4.7],[9.8,2.2,13,2.2,16,1.8,15,4,15.5,7.5],
  [16,3.5,18.5,3.5,22,4.5,27.4,5,30,3.5],
  [24,9,27,9.5,32,12,34,10],[22.5,11,24,9,27.4,5,30.5,3.7,34,4,35.5,5],
  [36.8,15,36,12.5,34,10,33,8,35,5.2],[36.8,15,37.5,17.8,38.5,18],[36.8,15,40,14.5,43,12.5],
  [43,11,44,9,47.8,8,45,5,42,4,39,3.5,35.5,5],[41,3.9,41,-1.7],[34,-1,37.5,-3,39.3,-4.7],
  [30.5,3.7,34,4,35,1.5,34,-1,30.5,-1],[18.5,3.5,17.5,-1,16,-2,14,-4.5,12,-5],
  [30.5,-1,29.5,-4.5,30.5,-8,28.5,-9,30,-12],[12.2,-6,16.5,-6,22,-8,24,-11,24,-12],[34.5,-11.5,40.4,-10.5],
  [43,16.5,47,17,52,19,55,20,56,24],[61.5,25.2,63,27,61,29.5,61,31],[68.2,23.7,71,25,70,28,74,31],
  [48,29.5,44,29.2,41,31],[80,31,81,28.5,88,26.5,88,27.5],[89,27,92,27],[88,26,88.5,22],[89,26,90,25.5,92,25]
];
const islandDashes = [
  [-78.3,18.3,-76.5,18],[-67.2,18.2,-65.8,18.3],[-61.8,16.4,-61.6,16.1],[-61.1,15,-60.9,14.7],
  [-78.5,26.8,-77.8,26.4],[-77.5,25,-77,24.6],[-76,24,-75.6,23.6],[-74.8,22.8,-74.4,22.4],[-16,28.3,-15.4,28],[-14,28.6,-13.6,28.9],[-17.2,28.6,-17,28.2],[53.5,12.5,54.5,12.5]
];
const equatorSegments = [[-90, -80], [-50, 9.5], [42, 90]];

/* ---------- panel grid ---------- */
const columnLefts = [102.5, 845];
const rowTops = [46, 279, 511, 745];
const panelWidth = 633;
const panelHeight = 140;
const panels = [
  { id: '24-may', col: 0, row: 0, fills: fills24May, contours: contours24May },
  { id: '27-may', col: 0, row: 1, fills: fills27May, contours: contours27May },
  { id: '30-may', col: 0, row: 2, fills: fills30May, contours: contours30May },
  { id: '2-jun',  col: 0, row: 3, fills: fills2Jun,  contours: contours2Jun },
  { id: '5-jun',  col: 1, row: 0, fills: fills5Jun,  contours: contours5Jun },
  { id: '8-jun',  col: 1, row: 1, fills: fills8Jun,  contours: contours8Jun },
  { id: '11-jun', col: 1, row: 2, fills: fills11Jun, contours: contours11Jun },
  { id: '14-jun', col: 1, row: 3, fills: fills14Jun, contours: contours14Jun }
];

/* ---------- helpers ---------- */
const NS = 'http://www.w3.org/2000/svg';
function mk(tag, attrs, parent) {
  const node = document.createElementNS(NS, tag);
  for (const k in attrs) node.setAttribute(k, attrs[k]);
  if (parent) parent.appendChild(node);
  return node;
}
function condense(textNode) {
  const w = textNode.getComputedTextLength();
  if (w > 0) {
    textNode.setAttribute('textLength', (w * 0.92).toFixed(1));
    textNode.setAttribute('lengthAdjust', 'spacingAndGlyphs');
  }
}
const xAxis = col => lon => columnLefts[col] + (lon + 90) / 180 * panelWidth;
const yAxis = row => lat => rowTops[row] + (30 - lat) / 40 * panelHeight;
function colorFor(v) {
  let i = 0;
  while (i < colorBounds.length && colorBounds[i] < v) i++;
  return colorBands[i];
}
function toPoints(flat, x, y) {
  const pts = [];
  for (let i = 0; i + 1 < flat.length; i += 2) pts.push([x(flat[i]), y(flat[i + 1])]);
  return pts;
}
function smoothPath(pts, closed) {
  const n = pts.length;
  const at = i => closed ? pts[(i + n) % n] : pts[Math.max(0, Math.min(n - 1, i))];
  let d = 'M' + pts[0][0].toFixed(1) + ' ' + pts[0][1].toFixed(1);
  const segs = closed ? n : n - 1;
  for (let i = 0; i < segs; i++) {
    const p0 = at(i - 1), p1 = at(i), p2 = at(i + 1), p3 = at(i + 2);
    const c1x = p1[0] + (p2[0] - p0[0]) / 6, c1y = p1[1] + (p2[1] - p0[1]) / 6;
    const c2x = p2[0] - (p3[0] - p1[0]) / 6, c2y = p2[1] - (p3[1] - p1[1]) / 6;
    d += 'C' + c1x.toFixed(1) + ' ' + c1y.toFixed(1) + ' ' + c2x.toFixed(1) + ' ' + c2y.toFixed(1) + ' ' + p2[0].toFixed(1) + ' ' + p2[1].toFixed(1);
  }
  return d + (closed ? 'Z' : '');
}
function linePath(pts) {
  return 'M' + pts.map(p => p[0].toFixed(1) + ' ' + p[1].toFixed(1)).join('L');
}

/* ---------- draw panels ---------- */
const panelRoot = document.getElementById('panels');
const defs = mk('defs', {}, panelRoot);
panels.forEach(function (panel) {
  const x = xAxis(panel.col), y = yAxis(panel.row);
  const left = x(-90), right = x(90), top = y(30), bottom = y(-10);
  const clipId = 'clip-' + panel.id;
  const clip = mk('clipPath', { id: clipId }, defs);
  mk('rect', { x: left, y: top, width: right - left, height: bottom - top }, clip);

  const g = mk('g', {}, panelRoot);
  
  
  const inner = mk('g', { 'clip-path': 'url(#' + clipId + ')' }, g);

  const bg = mk('rect', { x: left, y: top, width: right - left, height: bottom - top, fill: colorBands[5] }, inner);
  
  

  panel.fills.forEach(function (f) {
    const el = mk('path', { d: smoothPath(toPoints(f.slice(1), x, y), true), fill: colorFor(f[0]) }, inner);
    
    
  });

  const mapGroup = mk('g', { fill: 'none', stroke: '#666', 'stroke-width': 1.7, 'stroke-linejoin': 'round' }, inner);
  
  
  coastlines.concat(borders).forEach(function (line) {
    const el = mk('path', { d: linePath(toPoints(line, x, y)) }, mapGroup);
    
    
  });
  islandDashes.forEach(function (line) {
    const el = mk('path', { d: linePath(toPoints(line, x, y)), 'stroke-width': 2.4 }, mapGroup);
    
    
  });

  equatorSegments.forEach(function (seg) {
    const el = mk('line', { x1: x(seg[0]), x2: x(seg[1]), y1: y(0), y2: y(0), stroke: '#555', 'stroke-width': 1.4, 'stroke-dasharray': '5 4' }, inner);
    
    
  });
  const meridian = mk('line', { x1: x(0), x2: x(0), y1: y(5.5), y2: y(-10), stroke: '#555', 'stroke-width': 1.4, 'stroke-dasharray': '5 4' }, inner);
  
  

  panel.contours.forEach(function (c) {
    const pts = toPoints(c.slice(2), x, y);
    const el = mk('path', { d: smoothPath(pts, c[1] === 1), fill: 'none', stroke: contourColors[c[0]], 'stroke-width': 1.8 }, inner);
    
    
  });

  if (panel.id === '24-may') {
    const hx = x(-87), hy = y(19.5);
    const storm = mk('g', {}, inner);
    
    
    mk('ellipse', { cx: hx, cy: hy, rx: 5.5, ry: 9.5, fill: '#d81818', stroke: '#000', 'stroke-width': 1.2 }, storm);
    const letter = mk('text', { x: hx, y: hy + 3, 'font-size': 8, 'font-weight': 'bold', 'text-anchor': 'middle', style: 'fill:#fff' }, storm);
    letter.textContent = 'A';
  }

  const frame = mk('rect', { x: left, y: top, width: right - left, height: bottom - top, fill: 'none', stroke: '#000', 'stroke-width': 3 }, g);
  
  

  const ticks = mk('g', { stroke: '#000', fill: 'none' }, g);
  
  
  for (let lon = -90; lon <= 90; lon += 10) {
    const major = xTicks.indexOf(lon) >= 0;
    const len = major ? 6 : 3.5;
    const w = major ? 2 : 1.2;
    const t1 = mk('line', { x1: x(lon), x2: x(lon), y1: top - len, y2: top, 'stroke-width': w }, ticks);
    
    
    const t2 = mk('line', { x1: x(lon), x2: x(lon), y1: bottom, y2: bottom + len, 'stroke-width': w }, ticks);
    
    
  }
  for (let lat = -10; lat <= 30; lat += 2) {
    const major = yTicks.indexOf(lat) >= 0;
    const len = major ? 5 : 2.5;
    const w = major ? 2 : 1.2;
    const t1 = mk('line', { x1: left - len, x2: left, y1: y(lat), y2: y(lat), 'stroke-width': w }, ticks);
    
    
    const t2 = mk('line', { x1: right, x2: right + len, y1: y(lat), y2: y(lat), 'stroke-width': w }, ticks);
    
    
  }

  if (panel.col === 0) {
    yTicks.forEach(function (lat, i) {
      const el = mk('text', { x: 74, y: y(lat) + 13, 'font-size': 37, 'text-anchor': 'end' }, g);
      el.textContent = yTickLabels[i];
      
      
      condense(el);
    });
  }
  if (panel.row === 3) {
    xTicks.forEach(function (lon, i) {
      const el = mk('text', { x: x(lon), y: 941, 'font-size': 37, 'text-anchor': 'middle' }, g);
      el.textContent = xTickLabels[i];
      
      
      condense(el);
    });
  }
});

/* ---------- colorbar ---------- */
const barRoot = document.getElementById('colorbar');
const barX = v => 229 + (v + 11) / 22 * 604;
colorBands.forEach(function (color, i) {
  const lo = i === 0 ? -11 : colorBounds[i - 1];
  const hi = i === colorBounds.length ? 11 : colorBounds[i];
  const box = mk('rect', { x: barX(lo), y: 1003, width: barX(hi) - barX(lo), height: 23, fill: color, stroke: '#111', 'stroke-width': 1 }, barRoot);
  
  
});
colorBounds.forEach(function (v) {
  const label = mk('text', { x: barX(v), y: 1055, 'font-size': 32, 'text-anchor': 'middle' }, barRoot);
  label.textContent = String(v);
  
  
  condense(label);
});
</script>
</body>
</html>
